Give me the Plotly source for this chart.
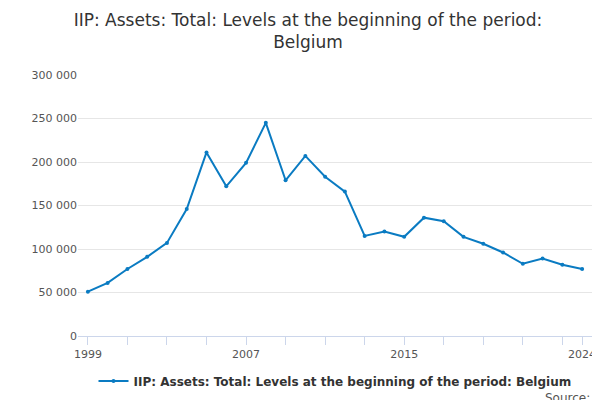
import plotly.graph_objects as go

years = list(range(1999, 2025))
values = [51000, 61000, 77000, 91000, 107000, 146000, 211000, 172000, 199000, 245000,
          179000, 207000, 183000, 166000, 115000, 120000, 114000, 136000, 132000, 114000,
          106000, 96000, 83000, 89000, 82000, 77000]
tick_years = [1999, 2001, 2003, 2005, 2007, 2009, 2011, 2013, 2015, 2017, 2019, 2021, 2023, 2024]
labeled = {1999, 2007, 2015, 2024}
series_name = "<b>IIP: Assets: Total: Levels at the beginning of the period: Belgium</b>"

fig = go.Figure(go.Scatter(x=years, y=values, mode="lines+markers", name=series_name,
                           line=dict(color="#0a7bc2", width=2), marker=dict(size=4, color="#0a7bc2")))
fig.update_layout(
    width=600, height=400, font=dict(family="DejaVu Sans", color="#555"),
    title=dict(text="IIP: Assets: Total: Levels at the beginning of the period:<br>Belgium",
               x=0.5, y=0.955, xanchor="center", font=dict(size=17, color="#333")),
    separators=". ",
    plot_bgcolor="white", paper_bgcolor="white",
    margin=dict(l=70, r=16, t=67, b=72),
    showlegend=True,
    legend=dict(orientation="h", x=0.5, xanchor="center", y=-0.172, yanchor="middle",
                font=dict(size=12, color="#333")),
    annotations=[dict(text="Source:", x=1, xref="paper", xanchor="right", y=-0.237, yref="paper",
                      yanchor="middle", showarrow=False, font=dict(size=12, color="#555"))],
)
fig.update_xaxes(range=[1998.5, 2024.5], tickvals=tick_years,
                 ticktext=[str(y) if y in labeled else "" for y in tick_years],
                 ticks="outside", ticklen=8, tickcolor="#ccd6eb", showline=True, linecolor="#ccd6eb",
                 showgrid=False, tickfont=dict(size=11))
fig.update_yaxes(range=[0, 300000], dtick=50000, tickformat=",", gridcolor="#e6e6e6",
                 zeroline=False, tickfont=dict(size=11))
fig.write_html("out.html")
